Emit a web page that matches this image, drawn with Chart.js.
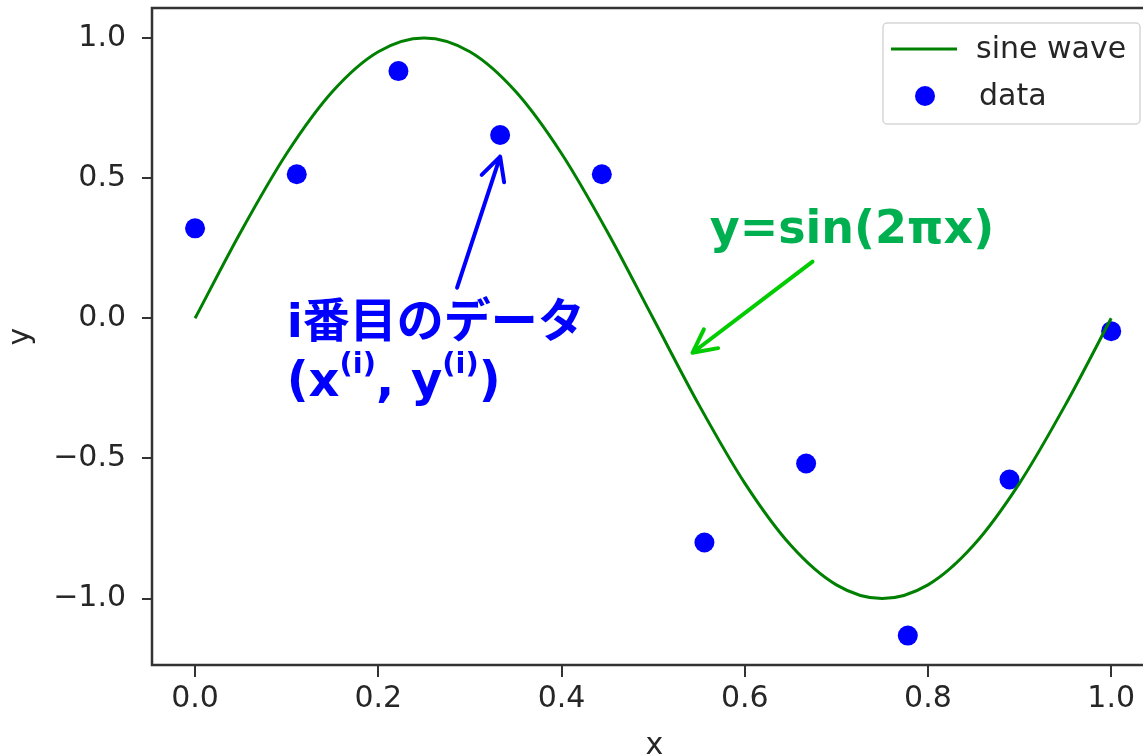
<!DOCTYPE html>
<html>
<head>
<meta charset="utf-8">
<script src="https://cdn.jsdelivr.net/npm/chart.js@4/dist/chart.umd.min.js"></script>
<style>
  html, body { margin: 0; padding: 0; overflow: hidden; background: #fff; }
</style>
</head>
<body>
<canvas id="chart" width="1200" height="770"></canvas>
<script>
// sine curve, sampled every 0.05
const waveX = [0, 0.05, 0.1, 0.15, 0.2, 0.25, 0.3, 0.35, 0.4, 0.45, 0.5,
               0.55, 0.6, 0.65, 0.7, 0.75, 0.8, 0.85, 0.9, 0.95, 1.0];
const waveY = [0, 0.309, 0.588, 0.809, 0.951, 1, 0.951, 0.809, 0.588, 0.309, 0,
               -0.309, -0.588, -0.809, -0.951, -1, -0.951, -0.809, -0.588, -0.309, 0];

// noisy samples
const dataX = [0, 0.111, 0.222, 0.333, 0.444, 0.556, 0.667, 0.778, 0.889, 1.0];
const dataY = [0.321, 0.514, 0.882, 0.654, 0.514, -0.80, -0.518, -1.132, -0.575, -0.046];

const xTicks = [0, 0.2, 0.4, 0.6, 0.8, 1.0];
const yTicks = [-1, -0.5, 0, 0.5, 1];
const seriesNames = ['sine wave', 'data'];

const tickFont = { family: 'DejaVu Sans', size: 30 };
const ink = '#262626';
const noteFont = '"DejaVu Sans", "Noto Sans CJK JP"';

const fmt = v => (v < 0 ? '\u2212' : '') + Math.abs(v).toFixed(1);

function arrow(ctx, x0, y0, x1, y1, color) {
  const a = Math.atan2(y0 - y1, x0 - x1);
  const len = 26, spread = 27 * Math.PI / 180;
  ctx.save();
  ctx.strokeStyle = color;
  ctx.lineWidth = 4;
  ctx.lineCap = 'round';
  ctx.lineJoin = 'round';
  ctx.beginPath();
  ctx.moveTo(x0, y0);
  ctx.lineTo(x1, y1);
  ctx.moveTo(x1 + len * Math.cos(a + spread), y1 + len * Math.sin(a + spread));
  ctx.lineTo(x1, y1);
  ctx.lineTo(x1 + len * Math.cos(a - spread), y1 + len * Math.sin(a - spread));
  ctx.stroke();
  ctx.restore();
}

const extras = {
  id: 'extras',
  afterDraw(chart) {
    const { ctx, chartArea: ca, scales: { x, y } } = chart;
    const px = v => x.getPixelForValue(v);
    const py = v => y.getPixelForValue(v);

    // frame
    ctx.save();
    ctx.strokeStyle = '#333';
    ctx.lineWidth = 2.5;
    ctx.strokeRect(ca.left, ca.top, ca.right - ca.left, ca.bottom - ca.top);
    ctx.restore();

    // legend
    const ds = chart.data.datasets;
    const bx = ca.right - 274, by = ca.top + 15, bw = 257, bh = 101;
    ctx.save();
    ctx.fillStyle = 'rgba(255,255,255,0.8)';
    ctx.strokeStyle = '#d6d6d6';
    ctx.lineWidth = 1.5;
    ctx.beginPath();
    ctx.roundRect(bx, by, bw, bh, 4);
    ctx.fill();
    ctx.stroke();
    ctx.strokeStyle = ds[0].borderColor;
    ctx.lineWidth = 3;
    ctx.beginPath();
    ctx.moveTo(bx + 8, by + 26);
    ctx.lineTo(bx + 74, by + 26);
    ctx.stroke();
    ctx.fillStyle = ds[1].backgroundColor;
    ctx.beginPath();
    ctx.arc(bx + 42, by + 73, 10, 0, Math.PI * 2);
    ctx.fill();
    ctx.fillStyle = ink;
    ctx.font = '30px "DejaVu Sans"';
    ctx.textBaseline = 'middle';
    ctx.fillText(ds[0].label, bx + 93, by + 27);
    ctx.fillText(ds[1].label, bx + 96, by + 74);
    ctx.restore();

    // annotations
    ctx.save();
    ctx.textBaseline = 'alphabetic';
    ctx.fillStyle = '#0000ff';
    ctx.font = 'bold 47px ' + noteFont;
    const tx = px(0.100);
    ctx.fillText('i番目のデータ', tx, py(-0.066));
    // second line with superscripts
    let cx = tx;
    const base = py(-0.277);
    const parts = [['(x', 0], ['(i)', 1], [', y', 0], ['(i)', 1], [')', 0]];
    for (const [t, sup] of parts) {
      ctx.font = (sup ? 'bold 29px ' : 'bold 48px ') + noteFont;
      ctx.fillText(t, cx, sup ? base - 23 : base);
      cx += ctx.measureText(t).width;
    }
    arrow(ctx, px(0.286), py(0.109), px(0.333), py(0.577), '#0000ff');

    ctx.fillStyle = '#00b050';
    ctx.font = 'bold 46px ' + noteFont;
    ctx.textAlign = 'center';
    ctx.textBaseline = 'middle';
    ctx.fillText('y=sin(2πx)', px(0.717), py(0.312));
    arrow(ctx, px(0.674), py(0.202), px(0.543), py(-0.123), '#00cc00');
    ctx.restore();
  }
};

new Chart(document.getElementById('chart'), {
  type: 'scatter',
  data: {
    datasets: [
      {
        type: 'line',
        label: seriesNames[0],
        data: waveX.map((v, i) => ({ x: v, y: waveY[i] })),
        borderColor: '#008000',
        borderWidth: 3,
        pointRadius: 0,
        cubicInterpolationMode: 'monotone',
        fill: false
      },
      {
        label: seriesNames[1],
        data: dataX.map((v, i) => ({ x: v, y: dataY[i] })),
        backgroundColor: '#0000ff',
        borderWidth: 0,
        pointRadius: 10
      }
    ]
  },
  options: {
    responsive: false,
    animation: false,
    layout: { autoPadding: false, padding: { left: 0, top: 8, right: 43, bottom: 0 } },
    plugins: { legend: { display: false }, tooltip: { enabled: false } },
    scales: {
      x: {
        type: 'linear',
        min: -0.047,
        max: 1.05,
        afterFit: s => { s.height = 105; s.paddingLeft = 0; s.paddingRight = 0; },
        afterBuildTicks: s => { s.ticks = xTicks.map(v => ({ value: v })); },
        grid: { drawOnChartArea: false, drawTicks: true, tickLength: 12, color: '#333', lineWidth: 2 },
        border: { display: false },
        ticks: { font: tickFont, color: ink, padding: 4, maxRotation: 0, callback: fmt },
        title: { display: true, text: 'x', font: tickFont, color: ink, padding: { top: 0, bottom: 6 } }
      },
      y: {
        min: -1.237,
        max: 1.107,
        afterFit: s => { s.width = 152; s.paddingTop = 0; s.paddingBottom = 0; },
        afterBuildTicks: s => { s.ticks = yTicks.map(v => ({ value: v })); },
        grid: { drawOnChartArea: false, drawTicks: true, tickLength: 10, color: '#333', lineWidth: 2 },
        border: { display: false },
        ticks: { font: tickFont, color: ink, padding: 16, callback: fmt },
        title: { display: true, text: 'y', font: tickFont, color: ink, padding: { top: 3, bottom: 0 } }
      }
    }
  },
  plugins: [extras]
});
</script>
</body>
</html>
